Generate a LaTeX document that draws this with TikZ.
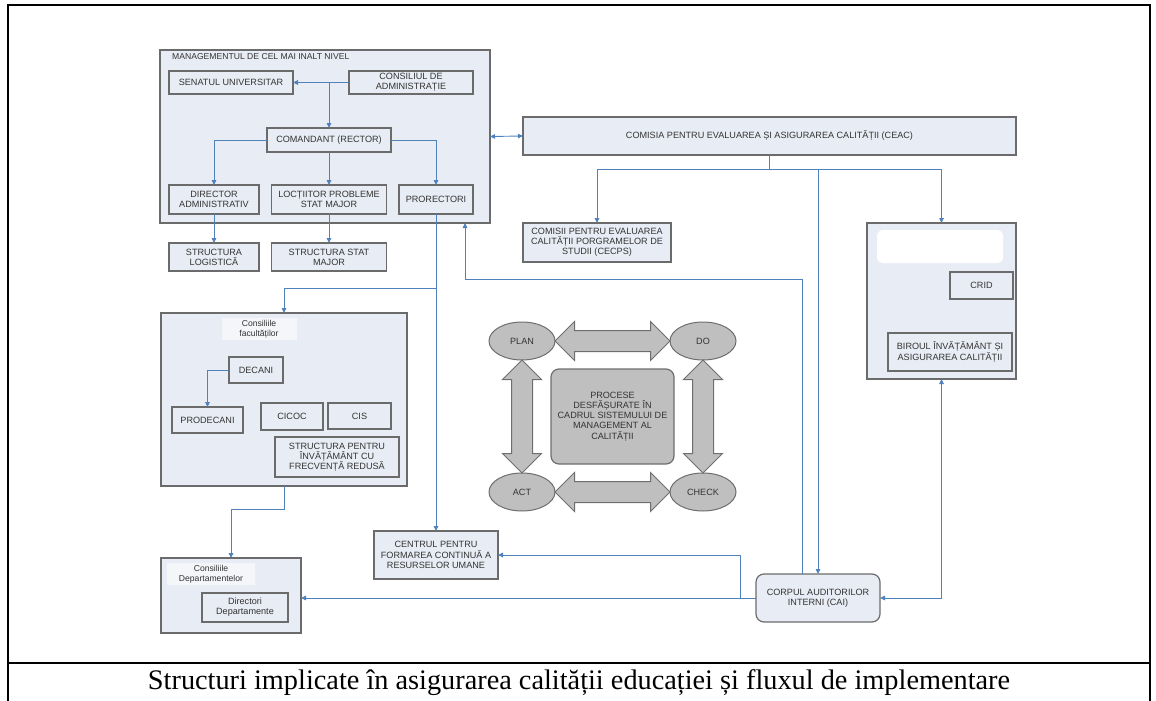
\documentclass[tikz,border=0pt]{standalone}
\usepackage{fontspec}
\setmainfont{Liberation Serif}
\setsansfont{Liberation Sans}
\usepackage{tikz}
\usepackage{xcolor}
\usetikzlibrary{shapes}
\usetikzlibrary{calc}
\usetikzlibrary{positioning, arrows.meta}

\definecolor{boxfill}{HTML}{E8ECF4}
\definecolor{boxline}{HTML}{6B6B6B}
\definecolor{linkblue}{HTML}{4F81BD}
\definecolor{pdcafill}{HTML}{BFBFBF}
\definecolor{pdcaline}{HTML}{6E6E6E}
\definecolor{txt}{HTML}{333333}

\begin{document}
\begin{tikzpicture}[x=1pt, y=-1pt,
    sz/.style 2 args = {minimum width=#1pt, minimum height=#2pt},
    box/.style = {draw=boxline, fill=boxfill, line width=1.2pt, inner sep=1pt, outer sep=0pt, align=center, text=txt, font=\sffamily\fontsize{9.1}{10.2}\selectfont},
    lbl/.style = {inner sep=1pt, align=center, text=txt, font=\sffamily\fontsize{8.6}{10}\selectfont},
    pdca/.style = {draw=pdcaline, fill=pdcafill, line width=1pt, ellipse, inner sep=0pt, text=txt, font=\sffamily\fontsize{9.1}{10.2}\selectfont},
    blockarrow/.style = {shape=double arrow, draw=pdcaline, fill=pdcafill, line width=1pt, inner xsep=0pt, inner ysep=10pt, double arrow head extend=9pt},
    link/.style = {draw=linkblue, line width=0.9pt},
    arr/.style = {link, -{Triangle[length=5pt, width=4.5pt]}},
    arrb/.style = {link, {Triangle[length=5pt, width=4.5pt]}-{Triangle[length=5pt, width=4.5pt]}}]
                \useasboundingbox (0,0) rectangle (1156,701);

                % Frame of the table
                \draw[line width=1.6pt] (8,701) -- (8,5) -- (1150,5) -- (1150,701);
                \draw[line width=1.6pt] (8,663) -- (1150,663);

                % Nodes
                \node[box, sz={330}{173}] (mgmt) at (325,136.5) {};
                \node[lbl, anchor=west] (mgmttitle) at (171,57) {MANAGEMENTUL DE CEL MAI INALT NIVEL};
                \node[box, sz={124}{23}] (sen) at (231,82.5) {SENATUL UNIVERSITAR};
                \node[box, sz={124}{23}] (cons) at (411,82.5) {CONSILIUL DE\\ADMINISTRAȚIE};
                \node[box, sz={124}{24}] (com) at (329,140) {COMANDANT (RECTOR)};
                \node[box, sz={90}{29}] (dir) at (214,199.5) {DIRECTOR\\ADMINISTRATIV};
                \node[box, sz={115}{29}] (loc) at (329,199.5) {LOCȚIITOR PROBLEME\\STAT MAJOR};
                \node[box, sz={74}{29}] (pror) at (436,199.5) {PRORECTORI};
                \node[box, sz={90}{28}] (logis) at (214,257) {STRUCTURA\\LOGISTICĂ};
                \node[box, sz={115}{28}] (statm) at (329,257) {STRUCTURA STAT\\MAJOR};

                \node[box, sz={493}{38}] (ceac) at (769.5,136) {COMISIA PENTRU EVALUAREA ȘI ASIGURAREA CALITĂȚII (CEAC)};
                \node[box, sz={148}{39}] (cecps) at (597,242.5) {COMISII PENTRU EVALUAREA\\CALITĂȚII PORGRAMELOR DE\\STUDII (CECPS)};

                \node[box, sz={149}{156}] (rbox) at (941.5,301) {};
                \fill[white, rounded corners=6pt] (877,230) rectangle (1003,263);
                \node[box, sz={63}{27}] (crid) at (981.5,285.5) {CRID};
                \node[box, sz={124}{38}] (birou) at (950,352) {BIROUL ÎNVĂȚĂMÂNT ȘI\\ASIGURAREA CALITĂȚII};

                \node[box, sz={246}{173}] (fac) at (284,399.5) {};
                \node[lbl, fill=white!55!boxfill, sz={75}{22}] (faclbl) at (259,329) {Consiliile\\facultăților};
                \node[box, sz={54}{26}] (dec) at (256,370) {DECANI};
                \node[box, sz={71}{26}] (prodec) at (207.5,420) {PRODECANI};
                \node[box, sz={62}{27}] (cicoc) at (292,416.5) {CICOC};
                \node[box, sz={63}{26}] (cis) at (359.5,416) {CIS};
                \node[box, sz={124}{40}] (ifr) at (337,457) {STRUCTURA PENTRU\\ÎNVĂȚĂMÂNT CU\\FRECVENȚĂ REDUSĂ};

                \node[box, sz={140}{75}] (dep) at (231,595.5) {};
                \node[lbl, fill=white!55!boxfill, sz={88}{22}] (deplbl) at (211,574) {Consiliile\\Departamentelor};
                \node[box, sz={86}{29}] (dird) at (245,607.5) {Directori\\Departamente};

                \node[box, sz={124}{48}] (cfc) at (436,555) {CENTRUL PENTRU\\FORMAREA CONTINUĂ A\\RESURSELOR UMANE};
                \node[box, rounded corners=8pt, sz={124}{48}] (cai) at (818,598) {CORPUL AUDITORILOR\\INTERNI (CAI)};

                % PDCA
                \node[pdca, sz={66}{38}] (plan) at (522,341) {PLAN};
                \node[pdca, sz={66}{38}] (do) at (703,341) {DO};
                \node[pdca, sz={66}{38}] (act) at (522,492) {ACT};
                \node[pdca, sz={66}{38}] (check) at (703,492) {CHECK};
                \node[box, draw=pdcaline, fill=pdcafill, rounded corners=8pt, sz={123}{95}] (proc) at (612.5,416.5) {PROCESE\\DESFĂȘURATE ÎN\\CADRUL SISTEMULUI DE\\MANAGEMENT AL\\CALITĂȚII};
                \node[blockarrow, minimum height=115pt] (pd) at ($(plan.east)!0.5!(do.west)$) {};
                \node[blockarrow, minimum height=115pt] (ac) at ($(act.east)!0.5!(check.west)$) {};
                \node[blockarrow, minimum height=113pt, rotate=90] (pa) at ($(plan.south)!0.5!(act.north)$) {};
                \node[blockarrow, minimum height=113pt, rotate=90] (dc) at ($(do.south)!0.5!(check.north)$) {};

                % Lines
                \draw[arr] (cons.west) -- (sen.east);
                \draw[arr] (com.north |- cons.west) -- (com.north);
                \draw[arr] (com.west) -| (dir.north);
                \draw[arr] (com.south) -- (loc.north);
                \draw[arr] (com.east) -| (pror.north);
                \draw[arr] (dir.south) -- (logis.north);
                \draw[arr] (loc.south) -- (statm.north);
                \draw[arrb] (mgmt.east) -- (ceac.west);

                \draw[arr] (pror.south) -- (cfc.north);
                \coordinate (pj) at (436,288);
                \draw[arr] (pj) -| (fac.north);
                \draw[arr] (dec.west) -| (prodec.north);
                \draw[arr] (fac.south) -- ++(0,23) -| (dep.north);

                \draw[link] (ceac.south) -- ++(0,14) coordinate (cj);
                \draw[arr] (cj) -| (cecps.north);
                \draw[arr] (cj) -| (rbox.north);
                \draw[arr] (cai.north |- cj) -- (cai.north);

                \coordinate (ret) at (802,279);
                \draw[arr] (ret |- cai.north) -- (ret) -| ([xshift=140pt]mgmt.south);
                \draw[arr] (cai.west) -- (cai.west -| dep.east);
                \draw[arr] (cai.west) -- ++(-16,0) |- (cfc.east);
                \draw[arrb] (cai.east) -| (rbox.south);

                % Caption
                \node[font=\fontsize{28.3}{30}\selectfont] (cap) at (579,683) {Structuri implicate în asigurarea calității educației și fluxul de implementare};
            \end{tikzpicture}
\end{document}
